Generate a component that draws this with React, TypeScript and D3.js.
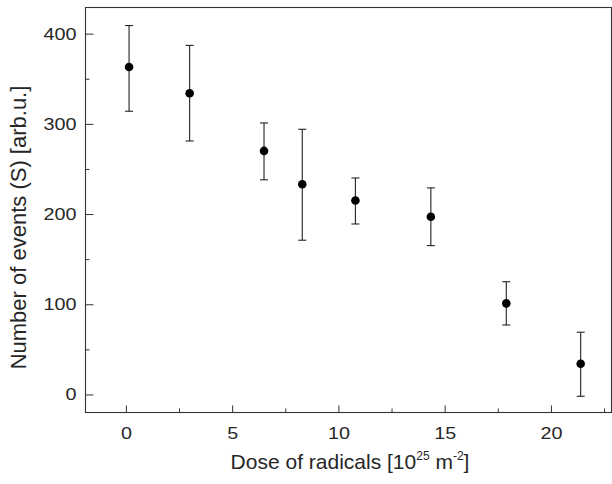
import React, { useEffect, useRef } from "react";
import * as d3 from "d3";

const doses = [0.15, 3.0, 6.5, 8.3, 10.8, 14.35, 17.9, 21.4];
const events = [363, 334, 270, 233, 215, 197, 101, 34];
const errUpper = [409, 387, 301, 294, 240, 229, 125, 69];
const errLower = [314, 281, 238, 171, 189, 165, 77, -2];
const xMajorTicks = [0, 5, 10, 15, 20];
const xMinorTicks = [2.5, 7.5, 12.5, 17.5, 22.5];
const yMajorTicks = [0, 100, 200, 300, 400];
const yMinorTicks = [50, 150, 250, 350];

const W = 612;
const H = 484;
const FONT = "'Liberation Sans', Arial, sans-serif";

export default function App() {
  const ref = useRef<SVGSVGElement | null>(null);

  useEffect(() => {
    const svg = d3.select(ref.current);
    svg.selectAll("*").remove();

    const left = 85.5, right = 611.5, top = 7.5, bottom = 412.5;
    const x = d3.scaleLinear().domain([-1.9, 22.85]).range([left, right]);
    const y = d3.scaleLinear().domain([-20, 429]).range([bottom, top]);
    const ink = "#262626";
    const digitW = 11;

    // frame
    svg.append("rect")
      .attr("x", left).attr("y", top)
      .attr("width", right - left).attr("height", bottom - top)
      .attr("fill", "none").attr("stroke", "#333").attr("stroke-width", 1.1);

    // y axis
    const yAxis = svg.append("g").attr("transform", `translate(${left},0)`)
      .call(d3.axisLeft(y).tickValues(yMajorTicks).tickSizeInner(-8).tickSizeOuter(0).tickPadding(9).tickFormat(d3.format("d")));
    yAxis.select(".domain").remove();
    yAxis.selectAll("line").attr("stroke", "#333");
    yAxis.selectAll<SVGTextElement, number>("text")
      .attr("font-family", FONT).attr("font-size", 17).attr("fill", ink)
      .attr("textLength", (d) => String(d).length * digitW).attr("lengthAdjust", "spacingAndGlyphs");
    const yMinor = svg.append("g").attr("transform", `translate(${left},0)`)
      .call(d3.axisLeft(y).tickValues(yMinorTicks).tickSizeInner(-4).tickSizeOuter(0).tickFormat(() => ""));
    yMinor.select(".domain").remove();
    yMinor.selectAll("line").attr("stroke", "#333");

    // x axis
    const xAxis = svg.append("g").attr("transform", `translate(0,${bottom})`)
      .call(d3.axisBottom(x).tickValues(xMajorTicks).tickSizeInner(-7).tickSizeOuter(0).tickPadding(14).tickFormat(d3.format("d")));
    xAxis.select(".domain").remove();
    xAxis.selectAll("line").attr("stroke", "#333");
    xAxis.selectAll<SVGTextElement, number>("text")
      .attr("font-family", FONT).attr("font-size", 17).attr("fill", ink)
      .attr("textLength", (d) => String(d).length * digitW).attr("lengthAdjust", "spacingAndGlyphs");
    const xMinor = svg.append("g").attr("transform", `translate(0,${bottom})`)
      .call(d3.axisBottom(x).tickValues(xMinorTicks).tickSizeInner(-4).tickSizeOuter(0).tickFormat(() => ""));
    xMinor.select(".domain").remove();
    xMinor.selectAll("line").attr("stroke", "#333");

    // error bars
    const data = doses.map((d, i) => ({ x: d, y: events[i], hi: errUpper[i], lo: errLower[i] }));
    const g = svg.append("g");
    const cap = 4;
    data.forEach((d) => {
      const cx = x(d.x);
      g.append("line").attr("x1", cx).attr("x2", cx).attr("y1", y(d.hi)).attr("y2", y(d.lo))
        .attr("stroke", "#222").attr("stroke-width", 1.1);
      g.append("line").attr("x1", cx - cap).attr("x2", cx + cap).attr("y1", y(d.hi)).attr("y2", y(d.hi))
        .attr("stroke", "#222").attr("stroke-width", 1.1);
      g.append("line").attr("x1", cx - cap).attr("x2", cx + cap).attr("y1", y(d.lo)).attr("y2", y(d.lo))
        .attr("stroke", "#222").attr("stroke-width", 1.1);
    });
    g.selectAll("circle").data(data).enter().append("circle")
      .attr("cx", (d) => x(d.x)).attr("cy", (d) => y(d.y)).attr("r", 4.3).attr("fill", "#000");

    // x title
    const xt = svg.append("text")
      .attr("x", 350).attr("y", 469)
      .attr("text-anchor", "middle")
      .attr("font-family", FONT).attr("font-size", 21).attr("fill", ink);
    xt.append("tspan").text("Dose of radicals [10");
    xt.append("tspan").attr("font-size", 12).attr("dy", -9).text("25");
    xt.append("tspan").attr("dy", 9).text(" m");
    xt.append("tspan").attr("font-size", 12).attr("dy", -9).text("-2");
    xt.append("tspan").attr("dy", 9).text("]");

    // y title
    svg.append("text")
      .attr("transform", `translate(26,227.5) rotate(-90)`)
      .attr("text-anchor", "middle")
      .attr("font-family", FONT).attr("font-size", 22).attr("fill", ink)
      .text("Number of events (S) [arb.u.]");
  }, []);

  return (
    <svg
      ref={ref}
      width={W}
      height={H}
      style={{ position: "absolute", left: 0, top: 0, background: "#fff" }}
    />
  );
}
